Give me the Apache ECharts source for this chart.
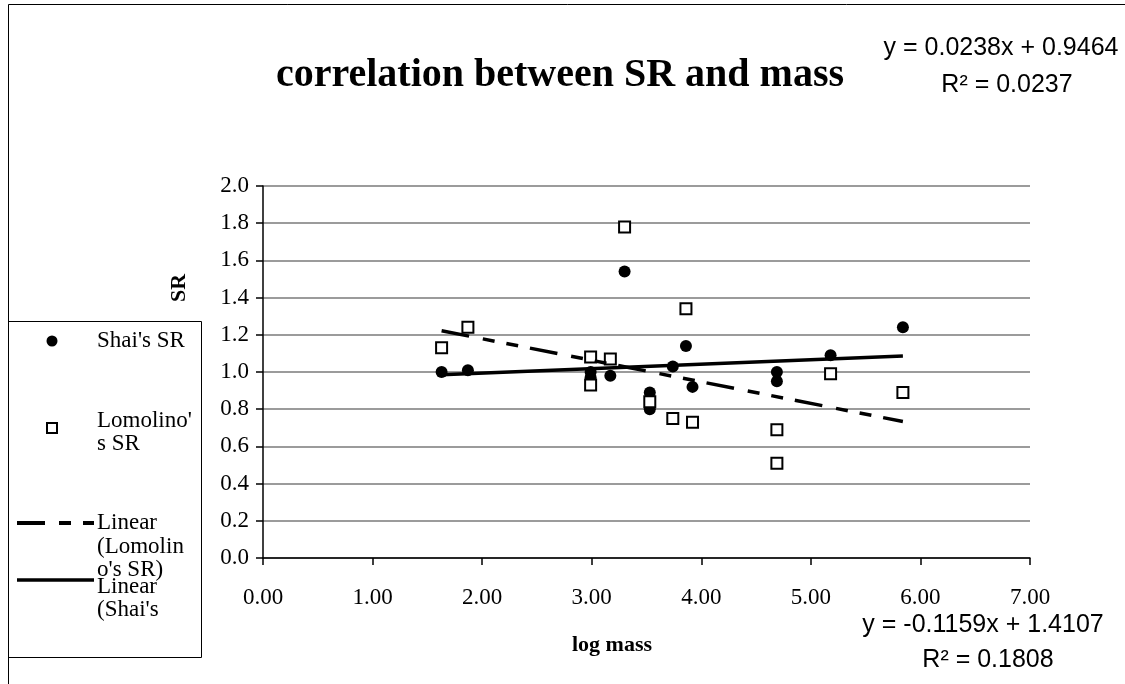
<!DOCTYPE html>
<html>
<head>
<meta charset="utf-8">
<script src="https://cdn.jsdelivr.net/npm/echarts@6/dist/echarts.min.js"></script>
<style>
html,body{margin:0;padding:0;background:#fff;}
#chart{width:1125px;height:684px;}
</style>
</head>
<body>
<div id="chart"></div>
<script>
// ---- data ----
var shaiLogMass = [1.63, 1.87, 2.99, 2.99, 3.17, 3.30, 3.53, 3.53, 3.74, 3.86, 3.92, 4.69, 4.69, 5.18, 5.84];
var shaiSR      = [1.00, 1.01, 1.00, 0.97, 0.98, 1.54, 0.89, 0.80, 1.03, 1.14, 0.92, 1.00, 0.95, 1.09, 1.24];
var lomLogMass  = [1.63, 1.87, 2.99, 2.99, 3.17, 3.30, 3.53, 3.74, 3.86, 3.92, 4.69, 4.69, 5.18, 5.84];
var lomSR       = [1.13, 1.24, 1.08, 0.93, 1.07, 1.78, 0.84, 0.75, 1.34, 0.73, 0.69, 0.51, 0.99, 0.89];
// trendline coefficients as printed on the chart
var shaiTrend = {slope: 0.0238, intercept: 0.9464, r2: 0.0237};
var lomTrend  = {slope: -0.1159, intercept: 1.4107, r2: 0.1808};
var xTicks = {min: 0, max: 7, step: 1};
var yTicks = {min: 0, max: 2, step: 0.2};
var titleText = 'correlation between SR and mass';
var xName = 'log mass';
var yName = 'SR';
var legendNames = ["Shai's SR", "Lomolino's SR", "Linear (Lomolino's SR)", "Linear (Shai's SR)"];

function zip(xs, ys){ return xs.map(function(x,i){ return [x, ys[i]]; }); }
function trendPts(xs, t){
  var lo = Math.min.apply(null, xs), hi = Math.max.apply(null, xs);
  return [[lo, t.intercept + t.slope*lo], [hi, t.intercept + t.slope*hi]];
}
function eqText(t){
  var s = t.slope < 0 ? '-' + Math.abs(t.slope).toFixed(4) : t.slope.toFixed(4);
  return 'y = ' + s + 'x + ' + t.intercept.toFixed(4);
}

var serif = 'Liberation Serif';
var sans = 'Liberation Sans';
var dashPattern = [28, 14, 12, 12, 12, 12];

function legendText(txt, x, y){
  return {type: 'text', x: x, y: y, style: {text: txt, verticalAlign: 'middle', fontFamily: serif, fontSize: 23, fill: '#000'}};
}

var chart = echarts.init(document.getElementById('chart'), null, {renderer: 'canvas'});
var option = {
  animation: false,
  backgroundColor: '#ffffff',
  grid: {left: 263, top: 186, right: 95, bottom: 126, containLabel: false},
  xAxis: {
    type: 'value', min: xTicks.min, max: xTicks.max, interval: xTicks.step,
    axisLine: {show: true, onZero: false, lineStyle: {color: '#000', width: 1.5}},
    axisTick: {show: true, length: 7, lineStyle: {color: '#000', width: 1.5}},
    axisLabel: {margin: 28, color: '#000', fontFamily: serif, fontSize: 23,
      formatter: function(v){ return v.toFixed(2); }},
    splitLine: {show: false}
  },
  yAxis: {
    type: 'value', min: yTicks.min, max: yTicks.max, interval: yTicks.step,
    axisLine: {show: true, onZero: false, lineStyle: {color: '#000', width: 1.5}},
    axisTick: {show: true, length: 7, lineStyle: {color: '#000', width: 1.5}},
    axisLabel: {margin: 14, color: '#000', fontFamily: serif, fontSize: 23,
      formatter: function(v){ return v.toFixed(1); }},
    splitLine: {show: true, lineStyle: {color: '#7a7a7a', width: 1.5}}
  },
  series: [
    {name: legendNames[0], type: 'scatter', data: zip(shaiLogMass, shaiSR),
     symbol: 'circle', symbolSize: 12, itemStyle: {color: '#000', opacity: 1}, z: 3},
    {name: legendNames[1], type: 'scatter', data: zip(lomLogMass, lomSR),
     symbol: 'rect', symbolSize: 11, itemStyle: {color: '#fff', borderColor: '#000', borderWidth: 2, opacity: 1}, z: 4},
    {name: legendNames[2], type: 'line', data: trendPts(lomLogMass, lomTrend), showSymbol: false,
     lineStyle: {color: '#000', width: 3.5, type: dashPattern}, z: 5},
    {name: legendNames[3], type: 'line', data: trendPts(shaiLogMass, shaiTrend), showSymbol: false,
     lineStyle: {color: '#000', width: 3.5, type: 'solid'}, z: 5}
  ],
  graphic: [
    // outer chart border
    {type: 'rect', shape: {x: 8.5, y: 4.5, width: 1300, height: 900}, style: {fill: null, stroke: '#000', lineWidth: 1}, z: 1},
    // title
    {type: 'text', x: 560, y: 76, style: {text: titleText, align: 'center', verticalAlign: 'middle',
      fontFamily: serif, fontWeight: 'bold', fontSize: 40, fill: '#000'}, z: 10},
    // axis names
    {type: 'text', x: 612, y: 645, style: {text: xName, align: 'center', verticalAlign: 'middle',
      fontFamily: serif, fontWeight: 'bold', fontSize: 22, fill: '#000'}, z: 10},
    {type: 'text', x: 179, y: 288, rotation: Math.PI/2, style: {text: yName, align: 'center', verticalAlign: 'middle',
      fontFamily: serif, fontWeight: 'bold', fontSize: 22, fill: '#000'}, z: 10},
    // trendline equations
    {type: 'text', x: 1001, y: 48, style: {text: eqText(shaiTrend), align: 'center', verticalAlign: 'middle',
      fontFamily: sans, fontSize: 25, fill: '#000'}, z: 10},
    {type: 'text', x: 1007, y: 85, style: {text: 'R\u00B2 = ' + shaiTrend.r2.toFixed(4), align: 'center', verticalAlign: 'middle',
      fontFamily: sans, fontSize: 25, fill: '#000'}, z: 10},
    {type: 'text', x: 983, y: 625, style: {text: eqText(lomTrend), align: 'center', verticalAlign: 'middle',
      fontFamily: sans, fontSize: 25, fill: '#000'}, z: 10},
    {type: 'text', x: 988, y: 660, style: {text: 'R\u00B2 = ' + lomTrend.r2.toFixed(4), align: 'center', verticalAlign: 'middle',
      fontFamily: sans, fontSize: 25, fill: '#000'}, z: 10},
    // legend box (text cut off by the box, as in the original)
    {type: 'group', x: 0, y: 0, z: 20, children: [
      {type: 'rect', shape: {x: 8.5, y: 321.5, width: 193, height: 336}, style: {fill: '#fff', stroke: '#000', lineWidth: 1}},
      {type: 'circle', shape: {cx: 52, cy: 341, r: 5.5}, style: {fill: '#000'}},
      legendText("Shai's SR", 97, 341),
      {type: 'rect', shape: {x: 47, y: 423, width: 10, height: 10}, style: {fill: '#fff', stroke: '#000', lineWidth: 2}},
      legendText("Lomolino'", 97, 421),
      legendText('s SR', 97, 444),
      {type: 'line', shape: {x1: 17, y1: 523, x2: 94, y2: 523}, style: {stroke: '#000', lineWidth: 4, lineDash: dashPattern}},
      legendText('Linear', 97, 523),
      legendText('(Lomolin', 97, 547),
      legendText("o's SR)", 97, 570),
      {type: 'line', shape: {x1: 17, y1: 580, x2: 94, y2: 580}, style: {stroke: '#000', lineWidth: 3.5}},
      legendText('Linear', 97, 587),
      legendText("(Shai's", 97, 610)
    ]}
  ]
};
chart.setOption(option);
</script>
</body>
</html>
